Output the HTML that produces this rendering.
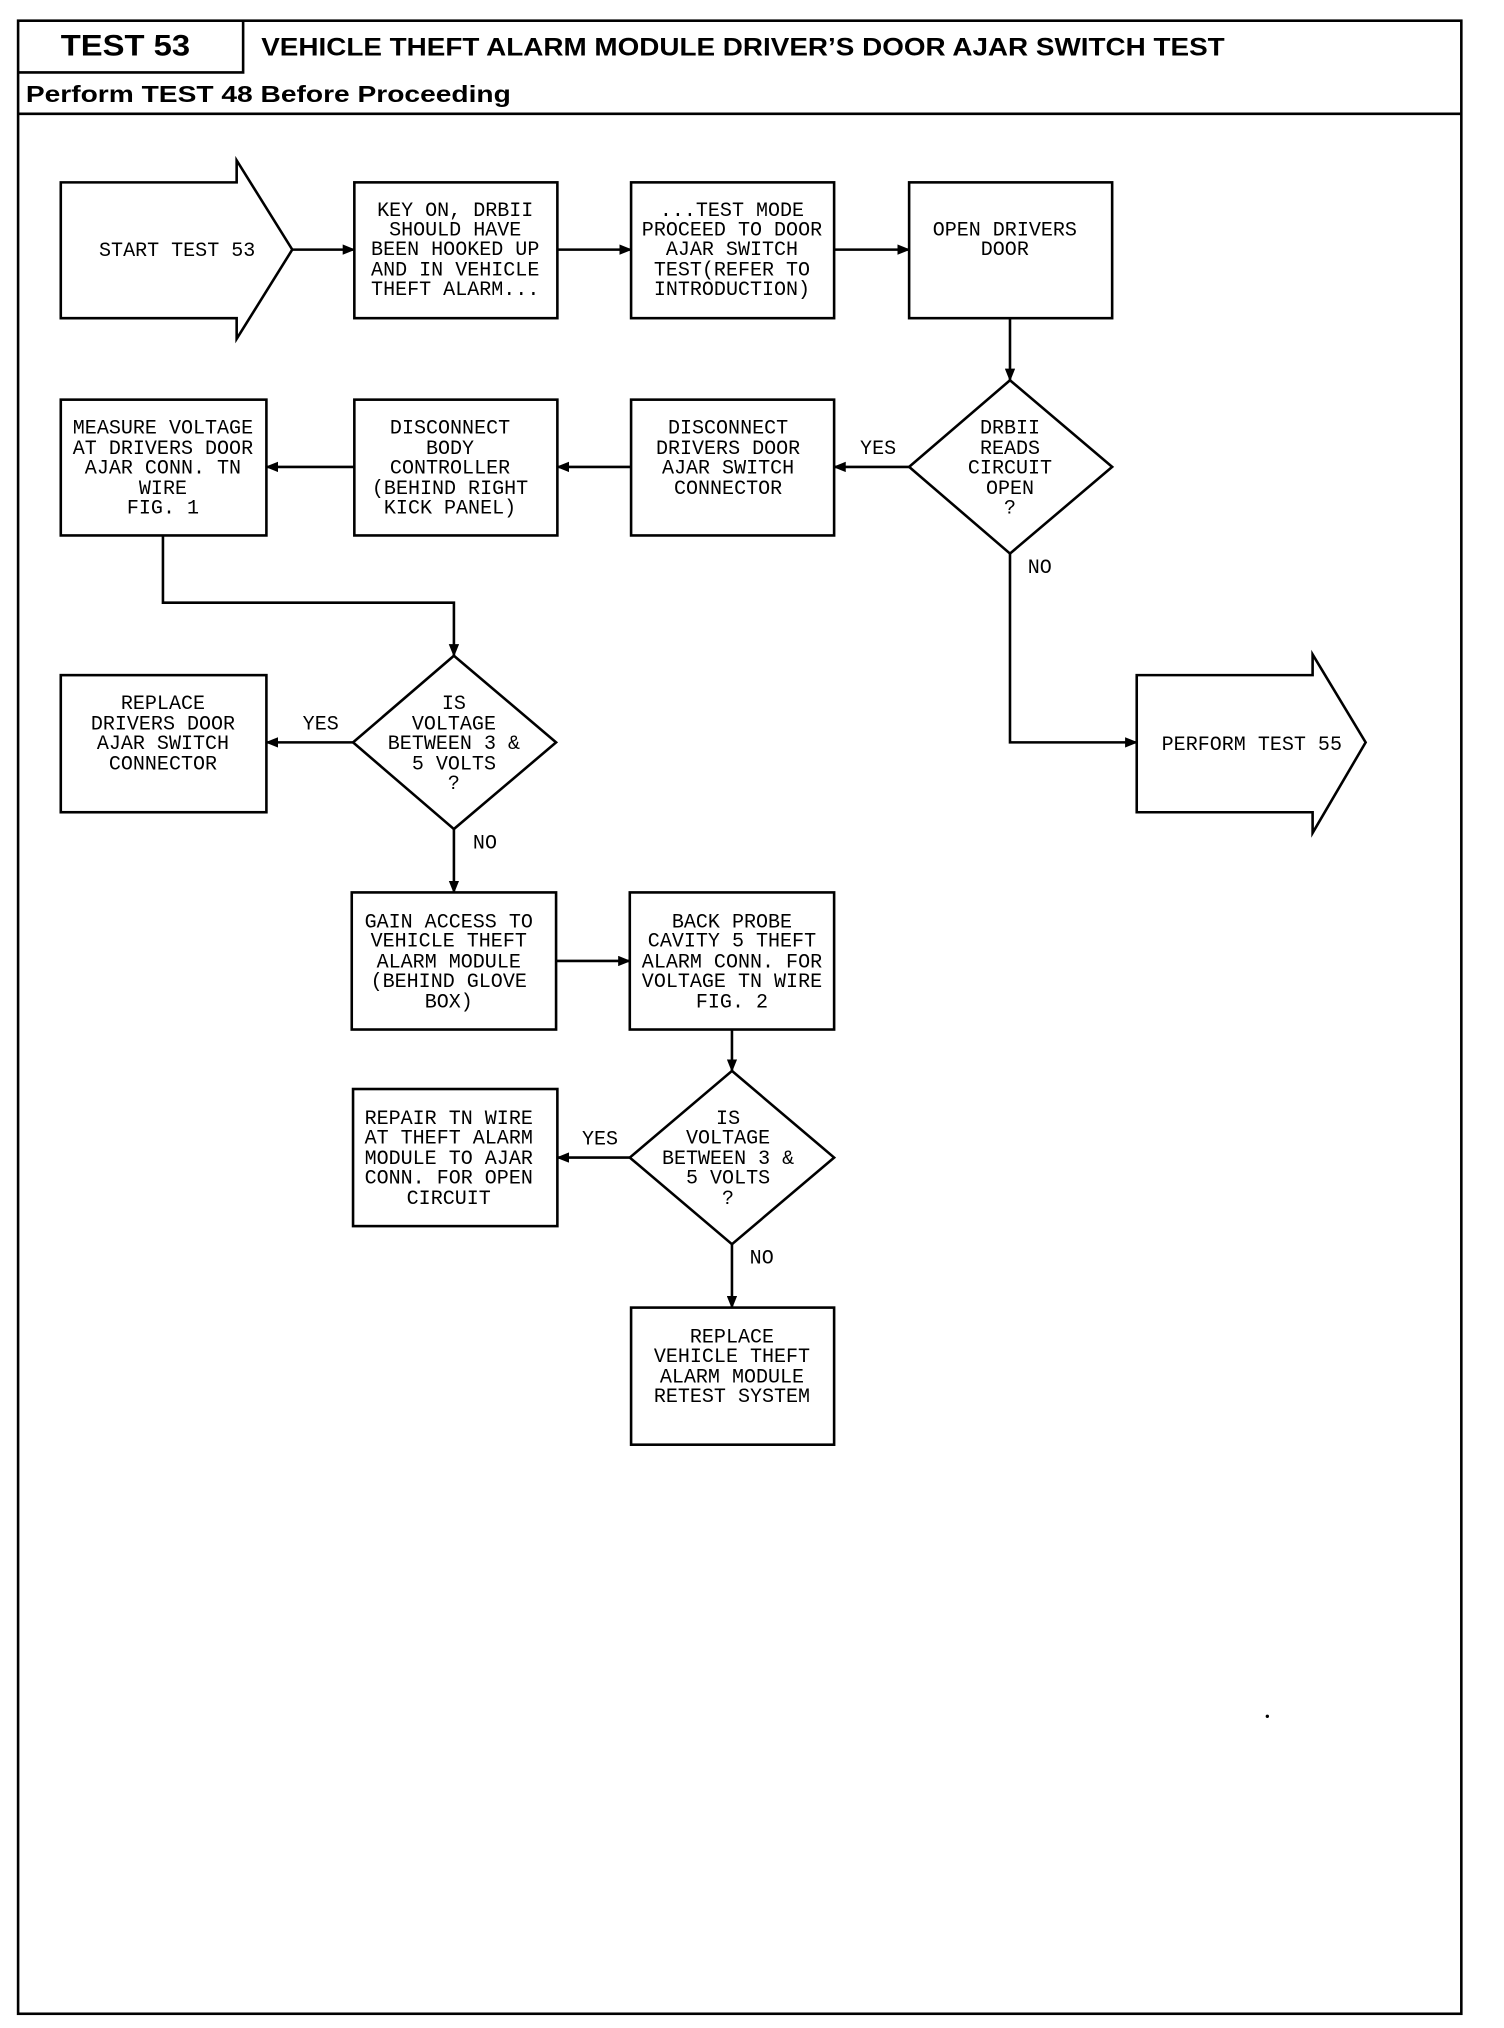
<!DOCTYPE html>
<html><head><meta charset="utf-8"><style>
html,body{margin:0;padding:0;background:#fff;}
svg{display:block;}
.t{font-family:"Liberation Mono",monospace;font-size:15.5px;fill:#000;text-anchor:middle;}
.l{font-family:"Liberation Mono",monospace;font-size:15.5px;fill:#000;}
</style></head><body>
<svg width="1504" height="2028" viewBox="0 0 1163 1568" preserveAspectRatio="none" xmlns="http://www.w3.org/2000/svg">
<defs><marker id="a" markerWidth="10" markerHeight="8" refX="9" refY="4" orient="auto" markerUnits="userSpaceOnUse"><path d="M0,0 L10,4 L0,8 Z" fill="#000"/></marker></defs>
<g fill="none" stroke="#000" stroke-width="2">
<rect x="14" y="16" width="1116" height="1541"/>
<polyline points="14,56 188,56 188,16"/>
<line x1="14" y1="88" x2="1130" y2="88"/>
<polygon points="47,141 183,141 183,124 226,193 183,262 183,246 47,246"/>
<rect x="274" y="141" width="157" height="105"/>
<rect x="488" y="141" width="157" height="105"/>
<rect x="703" y="141" width="157" height="105"/>
<polygon points="781,294 860,361 781,428 703,361"/>
<rect x="47" y="309" width="159" height="105"/>
<rect x="274" y="309" width="157" height="105"/>
<rect x="488" y="309" width="157" height="105"/>
<polygon points="879,522 1015,522 1015,506 1056,574 1015,644 1015,628 879,628"/>
<polygon points="351,507 430,574 351,641 273,574"/>
<rect x="47" y="522" width="159" height="106"/>
<rect x="272" y="690" width="158" height="106"/>
<rect x="487" y="690" width="158" height="106"/>
<polygon points="566,828 645,895 566,962 487,895"/>
<rect x="273" y="842" width="158" height="106"/>
<rect x="488" y="1011" width="157" height="106"/>
</g>
<g fill="none" stroke="#000" stroke-width="2" marker-end="url(#a)">
<line x1="226" y1="193" x2="274" y2="193"/>
<line x1="431" y1="193" x2="488" y2="193"/>
<line x1="645" y1="193" x2="703" y2="193"/>
<line x1="781" y1="246" x2="781" y2="294"/>
<line x1="703" y1="361" x2="645" y2="361"/>
<line x1="488" y1="361" x2="431" y2="361"/>
<line x1="274" y1="361" x2="206" y2="361"/>
<polyline points="781,428 781,574 879,574"/>
<polyline points="126,414 126,466 351,466 351,507"/>
<line x1="273" y1="574" x2="206" y2="574"/>
<line x1="351" y1="641" x2="351" y2="690"/>
<line x1="430" y1="743" x2="487" y2="743"/>
<line x1="566" y1="796" x2="566" y2="828"/>
<line x1="487" y1="895" x2="431" y2="895"/>
<line x1="566" y1="962" x2="566" y2="1011"/>
</g>
<circle cx="980" cy="1327" r="1.3" fill="#000"/>
<text x="47" y="43" font-family="Liberation Sans,sans-serif" font-weight="bold" font-size="23" textLength="100" lengthAdjust="spacingAndGlyphs">TEST 53</text>
<text x="202" y="43" font-family="Liberation Sans,sans-serif" font-weight="bold" font-size="19" textLength="745" lengthAdjust="spacingAndGlyphs">VEHICLE THEFT ALARM MODULE DRIVER’S DOOR AJAR SWITCH TEST</text>
<text x="20" y="79" font-family="Liberation Sans,sans-serif" font-weight="bold" font-size="18" textLength="375" lengthAdjust="spacingAndGlyphs">Perform TEST 48 Before Proceeding</text>
<g class="t">
<text x="137" y="198">START TEST 53</text>
<text x="352" y="167">KEY ON, DRBII</text><text x="352" y="182">SHOULD HAVE</text><text x="352" y="197">BEEN HOOKED UP</text><text x="352" y="213">AND IN VEHICLE</text><text x="352" y="228">THEFT ALARM...</text>
<text x="566" y="167">...TEST MODE</text><text x="566" y="182">PROCEED TO DOOR</text><text x="566" y="197">AJAR SWITCH</text><text x="566" y="213">TEST(REFER TO</text><text x="566" y="228">INTRODUCTION)</text>
<text x="777" y="182">OPEN DRIVERS</text><text x="777" y="197">DOOR</text>
<text x="781" y="335">DRBII</text><text x="781" y="351">READS</text><text x="781" y="366">CIRCUIT</text><text x="781" y="382">OPEN</text><text x="781" y="397">?</text>
<text x="126" y="335">MEASURE VOLTAGE</text><text x="126" y="351">AT DRIVERS DOOR</text><text x="126" y="366">AJAR CONN. TN</text><text x="126" y="382">WIRE</text><text x="126" y="397">FIG. 1</text>
<text x="348" y="335">DISCONNECT</text><text x="348" y="351">BODY</text><text x="348" y="366">CONTROLLER</text><text x="348" y="382">(BEHIND RIGHT</text><text x="348" y="397">KICK PANEL)</text>
<text x="563" y="335">DISCONNECT</text><text x="563" y="351">DRIVERS DOOR</text><text x="563" y="366">AJAR SWITCH</text><text x="563" y="382">CONNECTOR</text>
<text x="968" y="580">PERFORM TEST 55</text>
<text x="351" y="548">IS</text><text x="351" y="564">VOLTAGE</text><text x="351" y="579">BETWEEN 3 &amp;</text><text x="351" y="595">5 VOLTS</text><text x="351" y="610">?</text>
<text x="126" y="548">REPLACE</text><text x="126" y="564">DRIVERS DOOR</text><text x="126" y="579">AJAR SWITCH</text><text x="126" y="595">CONNECTOR</text>
<text x="347" y="717">GAIN ACCESS TO</text><text x="347" y="732">VEHICLE THEFT</text><text x="347" y="748">ALARM MODULE</text><text x="347" y="763">(BEHIND GLOVE</text><text x="347" y="779">BOX)</text>
<text x="566" y="717">BACK PROBE</text><text x="566" y="732">CAVITY 5 THEFT</text><text x="566" y="748">ALARM CONN. FOR</text><text x="566" y="763">VOLTAGE TN WIRE</text><text x="566" y="779">FIG. 2</text>
<text x="563" y="869">IS</text><text x="563" y="884">VOLTAGE</text><text x="563" y="900">BETWEEN 3 &amp;</text><text x="563" y="915">5 VOLTS</text><text x="563" y="931">?</text>
<text x="347" y="869">REPAIR TN WIRE</text><text x="347" y="884">AT THEFT ALARM</text><text x="347" y="900">MODULE TO AJAR</text><text x="347" y="915">CONN. FOR OPEN</text><text x="347" y="931">CIRCUIT</text>
<text x="566" y="1038">REPLACE</text><text x="566" y="1053">VEHICLE THEFT</text><text x="566" y="1069">ALARM MODULE</text><text x="566" y="1084">RETEST SYSTEM</text>
<text x="679" y="351">YES</text>
<text x="804" y="443">NO</text>
<text x="248" y="564">YES</text>
<text x="375" y="656">NO</text>
<text x="464" y="885">YES</text>
<text x="589" y="977">NO</text>
</g>
</svg>
</body></html>
